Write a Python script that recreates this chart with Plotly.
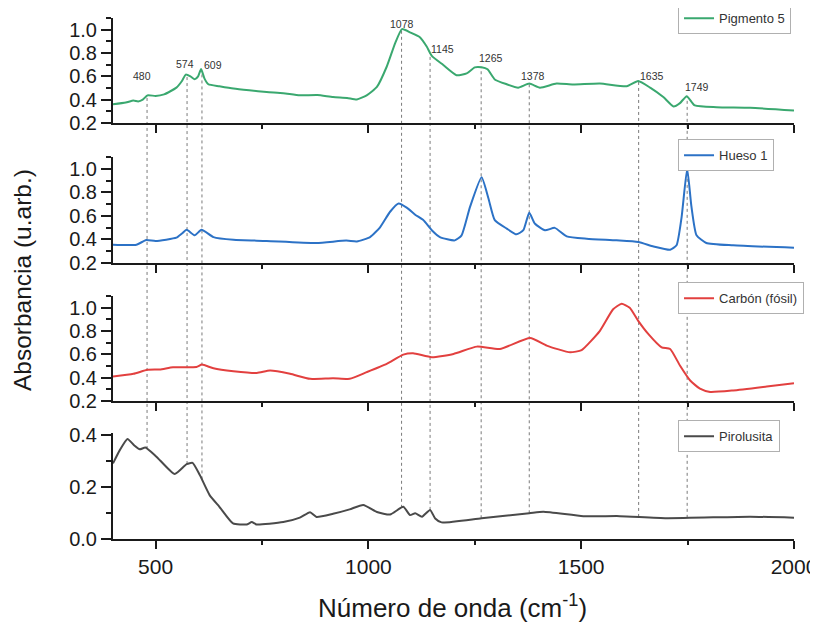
import numpy as np
import plotly.graph_objects as go

# ---------------- data ----------------
pig_x = [400, 430, 448, 459, 470, 481, 500, 520, 549, 562, 571, 582, 592, 600, 607, 615, 624, 650, 683, 720,
         761, 800, 839, 880, 917, 950, 973, 996, 1020, 1043, 1063, 1079, 1099, 1121, 1137, 1149, 1176, 1207, 1231, 1250,
         1266, 1280, 1297, 1325, 1352, 1378, 1403, 1442, 1481, 1544, 1607, 1634, 1662, 1693, 1717, 1732, 1748, 1767, 1818, 1897,
         2000]
pig_y = [0.36, 0.375, 0.393, 0.385, 0.40, 0.437, 0.432, 0.445, 0.503, 0.56, 0.615, 0.60, 0.575, 0.60, 0.662, 0.58, 0.532, 0.515, 0.495, 0.48,
         0.465, 0.455, 0.437, 0.44, 0.422, 0.415, 0.402, 0.437, 0.509, 0.682, 0.885, 1.005, 0.975, 0.935, 0.855, 0.775, 0.697, 0.61, 0.625, 0.677,
         0.678, 0.66, 0.573, 0.532, 0.503, 0.538, 0.503, 0.538, 0.53, 0.538, 0.515, 0.56, 0.503, 0.422, 0.341, 0.37, 0.43, 0.35, 0.335, 0.33,
         0.307]

hue_x = [400, 455, 478, 500, 549, 562, 573, 592, 608, 636, 683, 761, 878, 948, 973, 1004, 1027, 1051, 1071, 1090,
         1110, 1129, 1149, 1168, 1203, 1219, 1239, 1266, 1282, 1297, 1325, 1348, 1364, 1378, 1391, 1415, 1438, 1466, 1513, 1583,
         1634, 1670, 1709, 1724, 1736, 1749, 1759, 1771, 1794, 1857, 2000]
hue_y = [0.355, 0.355, 0.395, 0.387, 0.415, 0.45, 0.482, 0.435, 0.482, 0.42, 0.397, 0.387, 0.369, 0.39, 0.383, 0.42, 0.501, 0.635, 0.705, 0.67,
         0.61, 0.564, 0.478, 0.42, 0.392, 0.435, 0.678, 0.928, 0.75, 0.564, 0.492, 0.443, 0.478, 0.627, 0.535, 0.478, 0.498, 0.426, 0.406, 0.392,
         0.378, 0.34, 0.312, 0.35, 0.592, 1.0, 0.68, 0.435, 0.37, 0.35, 0.329]

car_x = [400, 448, 481, 510, 541, 596, 609, 636, 683, 738, 769, 816, 863, 917, 956, 996, 1043, 1082, 1105, 1149,
         1200, 1255, 1309, 1380, 1419, 1474, 1501, 1544, 1575, 1595, 1614, 1634, 1658, 1689, 1709, 1732, 1756, 1779, 1803, 1857,
         1936, 2000]
car_y = [0.41, 0.433, 0.467, 0.47, 0.489, 0.492, 0.512, 0.48, 0.455, 0.44, 0.461, 0.433, 0.39, 0.396, 0.39, 0.447, 0.518, 0.597, 0.609, 0.575,
         0.603, 0.666, 0.646, 0.74, 0.675, 0.617, 0.637, 0.802, 0.986, 1.034, 0.999, 0.887, 0.773, 0.66, 0.646, 0.504, 0.376, 0.305, 0.277, 0.29,
         0.324, 0.353]

pir_x = [400, 416, 434, 450, 463, 476, 502, 545, 573, 587, 604, 627, 650, 682, 714, 726, 737, 800, 839, 863,
         878, 917, 956, 988, 1020, 1051, 1082, 1098, 1110, 1126, 1145, 1157, 1172, 1266, 1378, 1411, 1505, 1591, 1701, 1897,
         2000]
pir_y = [0.291, 0.342, 0.385, 0.36, 0.345, 0.352, 0.317, 0.25, 0.288, 0.293, 0.246, 0.169, 0.124, 0.06, 0.056, 0.065, 0.056, 0.065, 0.082, 0.103,
         0.085, 0.097, 0.114, 0.131, 0.104, 0.094, 0.124, 0.092, 0.099, 0.086, 0.112, 0.079, 0.064, 0.08, 0.099, 0.105, 0.088, 0.088, 0.08, 0.086,
         0.082]

series_names = ["Pigmento 5", "Hueso 1", "Carbón (fósil)", "Pirolusita"]
peaks = [480, 574, 609, 1078, 1145, 1265, 1378, 1635, 1749]
peak_labels = ["480", "574", "609", "1078", "1145", "1265", "1378", "1635", "1749"]

# ---------------- style / layout ----------------
colors = ["#3aa86f", "#2c72c6", "#e2403f", "#4a4a4a"]
domains = [[0.7985, 1.0], [0.5298, 0.7332], [0.2649, 0.4664], [0.0, 0.2035]]
yranges = [[0.2, 1.1], [0.2, 1.1], [0.2, 1.1], [0.0, 0.408]]
legend_tops = [1.030, 0.767, 0.4925, 0.2276]
label_shift = [(-5, 20), (-2, 11), (11, 6), (0, 6), (12, 4), (10, 9), (4, 8), (13, 5), (10, 10)]
FONT = "Liberation Sans, Arial, sans-serif"
AX = "#1a1a1a"

xs = [pig_x, hue_x, car_x, pir_x]
ys = [pig_y, hue_y, car_y, pir_y]

fig = go.Figure()
for i in range(4):
    k = "" if i == 0 else str(i + 1)
    fig.add_trace(go.Scatter(
        x=xs[i], y=ys[i], mode="lines", name=series_names[i],
        line=dict(color=colors[i], width=2, shape="spline", smoothing=0.5),
        xaxis="x" + k, yaxis="y" + k,
        legend="legend" + k, showlegend=True))

# the page body has an 8px default margin; size the figure to fill the rest of the window
layout = dict(
    width=810, height=623,
    margin=dict(l=105, r=24, t=10, b=92, autoexpand=False),
    paper_bgcolor="white", plot_bgcolor="white",
    font=dict(family=FONT, color=AX),
    showlegend=True,
)
for i in range(4):
    k = "" if i == 0 else str(i + 1)
    bottom = (i == 3)
    layout["xaxis" + k] = dict(
        domain=[0, 1], anchor="y" + k, range=[400, 2000],
        showline=True, linecolor=AX, linewidth=2, showgrid=False, zeroline=False,
        ticks="outside", ticklen=8, tickwidth=2, tickcolor=AX,
        tick0=0, dtick=500, showticklabels=bottom, automargin=False,
        tickfont=dict(size=21, family=FONT, color=AX),
        minor=dict(ticks="outside", ticklen=4, tickwidth=2, tickcolor=AX, dtick=250, tick0=0, showgrid=False),
    )
    if i < 3:
        yt = dict(tick0=0.2, dtick=0.2, minor=dict(ticks="outside", ticklen=5, tickwidth=2,
                                                   tickcolor=AX, dtick=0.1, tick0=0.1, showgrid=False))
    else:
        yt = dict(tick0=0.0, dtick=0.2, minor=dict(ticks="outside", ticklen=5, tickwidth=2,
                                                   tickcolor=AX, dtick=0.1, tick0=0.1, showgrid=False))
    layout["yaxis" + k] = dict(
        domain=domains[i], anchor="x" + k, range=yranges[i],
        showline=True, linecolor=AX, linewidth=2, showgrid=False, zeroline=False,
        ticks="outside", ticklen=10, tickwidth=2, tickcolor=AX, automargin=False,
        tickformat=".1f", tickfont=dict(size=20, family=FONT, color=AX),
        **yt)
    layout["legend" + k] = dict(
        x=0.8297, y=legend_tops[i], xanchor="left", yanchor="top",
        bgcolor="white", bordercolor="#b0b0b0", borderwidth=1,
        font=dict(size=13, family=FONT, color="#333333"),
        itemwidth=30, tracegroupgap=0)

fig.update_layout(**layout)


def to_paper(val, i):
    d0, d1 = domains[i]
    r0, r1 = yranges[i]
    return d0 + (val - r0) / (r1 - r0) * (d1 - d0)


shapes = []
annotations = []
for j, p in enumerate(peaks):
    top_val = float(np.interp(p, pig_x, pig_y))
    bot_val = float(np.interp(p, pir_x, pir_y))
    shapes.append(dict(type="line", xref="x", yref="paper", x0=p, x1=p,
                       y0=to_paper(bot_val, 3), y1=to_paper(top_val, 0),
                       line=dict(color="#7a7a7a", width=1, dash="dot"), layer="below"))
    dx, dy = label_shift[j]
    annotations.append(dict(x=p, y=top_val, xref="x", yref="y", text=peak_labels[j],
                            showarrow=False, xshift=dx, yshift=dy, yanchor="middle",
                            font=dict(size=10.5, family=FONT, color="#333333")))

annotations.append(dict(text="Absorbancia (u.arb.)", xref="paper", yref="paper",
                        x=-0.1336, y=0.497, textangle=-90, showarrow=False,
                        xanchor="center", yanchor="middle",
                        font=dict(size=24.5, family=FONT, color=AX)))
annotations.append(dict(text="Número de onda (cm<sup>-1</sup>)", xref="paper", yref="paper",
                        x=0.498, y=-0.1305, showarrow=False, xanchor="center", yanchor="middle",
                        font=dict(size=26, family=FONT, color=AX)))

fig.update_layout(shapes=shapes, annotations=annotations)
fig.write_html("out.html")
